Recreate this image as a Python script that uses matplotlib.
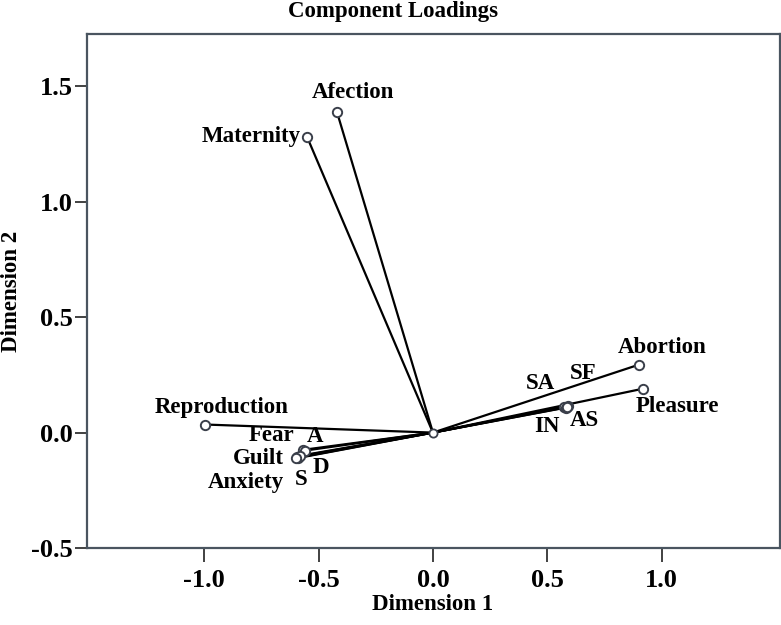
import numpy as np
import matplotlib; matplotlib.use('Agg')
import matplotlib.pyplot as plt

plt.rcParams.update({'font.family': 'Liberation Serif', 'font.weight': 'bold'})

# component loadings
names = ['Afection', 'Maternity', 'Reproduction', 'Abortion', 'Pleasure',
         'SA', 'SF', 'IN', 'AS', 'Fear', 'A', 'Guilt', 'S', 'D', 'Anxiety']
dim1 = [-0.42, -0.55, -0.997, 0.90, 0.918, 0.575, 0.59, 0.58, 0.585,
        -0.57, -0.56, -0.595, -0.59, -0.58, -0.60]
dim2 = [1.39, 1.28, 0.035, 0.294, 0.19, 0.112, 0.115, 0.108, 0.11,
        -0.075, -0.078, -0.105, -0.11, -0.10, -0.11]

# label offsets in pixels (dx, dy) and horizontal alignment
offs = {'Afection': (16, 19, 'center'), 'Maternity': (-6, 1, 'right'),
        'Reproduction': (17, 17, 'center'), 'Abortion': (23, 17, 'center'),
        'Pleasure': (35, -18, 'center'), 'SA': (-24, 23, 'center'),
        'SF': (15, 33, 'center'), 'IN': (-19, -19, 'center'),
        'AS': (18, -13, 'center'), 'Fear': (-31, 14, 'center'),
        'A': (10, 14, 'center'), 'Guilt': (-39, -2, 'center'),
        'S': (3, -22, 'center'), 'D': (21, -12, 'center'),
        'Anxiety': (-50, -25, 'center')}

fig = plt.figure(figsize=(7.81, 6.25), dpi=100)
ax = fig.add_axes([87/781, 1-548/625, 693/781, 514/625])

for n, x, y in zip(names, dim1, dim2):
    ax.plot([0, x], [0, y], color='black', lw=1.6, zorder=2)
ax.scatter(dim1, dim2, s=45, facecolors='white', edgecolors='#3a3f4a', lw=1.4, zorder=3)
ax.scatter([0], [0], s=35, facecolors='white', edgecolors='#3a3f4a', lw=1.3, zorder=3)

for n, x, y in zip(names, dim1, dim2):
    dx, dy, ha = offs[n]
    ax.annotate(n, (x, y), xytext=(dx, dy), textcoords='offset pixels',
                ha=ha, va='center', fontsize=16.5, fontweight='bold')

ax.set_xlim(-1.513, 1.518)
ax.set_ylim(-0.5, 1.727)
ax.set_xticks([-1.0, -0.5, 0.0, 0.5, 1.0])
ax.set_yticks([-0.5, 0.0, 0.5, 1.0, 1.5])
ax.set_xticklabels(['-1.0', '-0.5', '0.0', '0.5', '1.0'])
ax.set_yticklabels(['-0.5', '0.0', '0.5', '1.0', '1.5'])
ax.tick_params(axis='x', length=10, width=1.3, color='#333333', labelsize=19, pad=5)
ax.tick_params(axis='y', length=9, width=1.3, color='#333333', labelsize=19, pad=1)
for s in ax.spines.values():
    s.set_color('#4a5560'); s.set_linewidth(1.6)

fig.text(433/781, 1-604/625, 'Dimension 1', ha='center', va='center', fontsize=16.5, fontweight='bold')
fig.text(12/781, 1-291/625, 'Dimension 2', ha='center', va='center', rotation=90,
         fontsize=16.5, fontweight='bold')
fig.text(393/781, 1-12/625, 'Component Loadings', ha='center', va='center', fontsize=16.5, fontweight='bold')

plt.savefig('out.png', dpi=100, facecolor='white')
